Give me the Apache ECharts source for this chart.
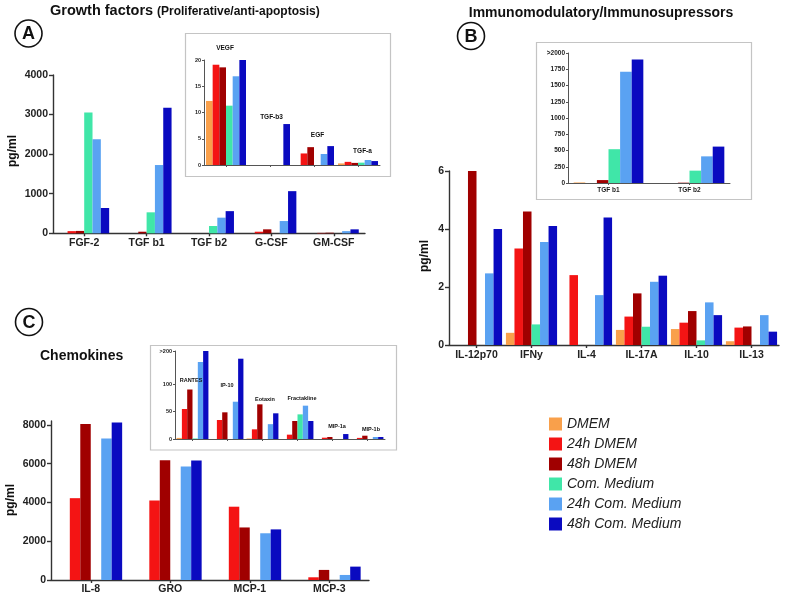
<!DOCTYPE html>
<html><head><meta charset="utf-8">
<script src="https://cdn.jsdelivr.net/npm/echarts@6/dist/echarts.min.js"></script>
<style>html,body{margin:0;padding:0;background:#fff}#c{width:787px;height:597px}</style>
</head><body><div id="c"></div>
<script>
// ---------- DATA ----------
const seriesNames = ['DMEM','24h DMEM','48h DMEM','Com. Medium','24h Com. Medium','48h Com. Medium'];
const colors = ['#F9A04B','#F41414','#A00000','#40E6A8','#5AA2F2','#0A0AC0'];

// Panel A (growth factors) main
const catsA = ['FGF-2','TGF b1','TGF b2','G-CSF','GM-CSF'];
const valsA = [
  [0, 0, 0, 0, 0],
  [55, 0, 0, 40, 10],
  [60, 40, 0, 100, 15],
  [3050, 530, 185, 0, 0],
  [2375, 1725, 395, 310, 55],
  [640, 3170, 560, 1065, 100]
];
const ticksA = [0, 1000, 2000, 3000, 4000];

// Panel A inset
const catsAIn = ['VEGF','TGF-b3','EGF','TGF-a'];
const valsAIn = [
  [12.2, 0, 0, 0.3],
  [19.1, 0, 2.2, 0.6],
  [18.6, 0, 3.4, 0.4],
  [11.3, 0, 0, 0.45],
  [16.9, 0, 2.1, 0.95],
  [20, 7.8, 3.6, 0.75]
];
const ticksAIn = [0, 5, 10, 15, 20];

// Panel B (immunomodulatory) main
const catsB = ['IL-12p70','IFNy','IL-4','IL-17A','IL-10','IL-13'];
const valsB = [
  [0, 0.42, 0, 0.52, 0.55, 0.13],
  [0, 3.33, 2.41, 0.98, 0.77, 0.6],
  [6.0, 4.6, 0, 1.78, 1.17, 0.64],
  [0, 0.71, 0, 0.63, 0.16, 0],
  [2.47, 3.55, 1.72, 2.18, 1.47, 1.03],
  [4.0, 4.1, 4.4, 2.39, 1.03, 0.46]
];
const ticksB = [0, 2, 4, 6];

// Panel B inset
const catsBIn = ['TGF b1','TGF b2'];
const valsBIn = [
  [8, 0],
  [0, 0],
  [45, 5],
  [520, 190],
  [1710, 410],
  [1900, 560]
];
const ticksBIn = [0, 250, 500, 750, 1000, 1250, 1500, 1750, 2000];
const tickLabelsBIn = ['0','250','500','750','1000','1250','1500','1750','>2000'];

// Panel C (chemokines) main
const catsC = ['IL-8','GRO','MCP-1','MCP-3'];
const valsC = [
  [0, 0, 0, 0],
  [4220, 4100, 3780, 140],
  [8050, 6180, 2710, 520],
  [0, 0, 0, 0],
  [7300, 5850, 2410, 260],
  [8120, 6160, 2610, 690]
];
const ticksC = [0, 2000, 4000, 6000, 8000];

// Panel C inset
const catsCIn = ['RANTES','IP-10','Eotaxin','Fractakline','MIP-1a','MIP-1b'];
const valsCIn = [
  [2, 0, 1, 0, 0, 0],
  [54.5, 34.5, 17.6, 7.9, 2.4, 2],
  [90, 48.5, 63, 32.7, 3.6, 6],
  [1, 0, 0, 44.8, 0, 0],
  [140, 67.8, 27, 60.6, 0, 3.6],
  [160, 146, 46.7, 32.7, 9, 3.6]
];
const ticksCIn = [0, 50, 100, 160];
const tickLabelsCIn = ['0','50','100','>200'];

// ---------- BUILD ----------
const FONT = '"Liberation Sans", Arial, Helvetica, sans-serif';
const grids = [], xAxes = [], yAxes = [], series = [];

function addPanel(cats, vals, g, y, x, gap) {
  const idx = grids.length;
  grids.push({left: g[0], top: g[1], width: g[2], height: g[3]});
  const lab = {};
  y.ticks.forEach((t, i) => { lab[t] = y.labels ? y.labels[i] : String(t); });
  xAxes.push({
    type: 'category', gridIndex: idx, data: cats,
    axisLine: {lineStyle: {color: x.color, width: x.lw}},
    axisTick: {show: true, alignWithLabel: true, length: x.tickLen, lineStyle: {color: x.color, width: x.lw}},
    axisLabel: {show: x.show, fontSize: x.fs, fontWeight: 'bold', color: '#222', margin: x.margin, fontFamily: FONT, interval: 0},
    splitLine: {show: false}
  });
  yAxes.push({
    type: 'value', gridIndex: idx, min: 0, max: y.max,
    interval: y.interval,
    axisLine: {show: true, lineStyle: {color: x.color, width: x.lw}},
    axisTick: {show: true, length: y.tickLen, lineStyle: {color: x.color, width: x.lw}, customValues: y.ticks},
    axisLabel: {fontSize: y.fs, fontWeight: 'bold', color: '#222', margin: y.margin, fontFamily: FONT,
      customValues: y.ticks,
      formatter: v => (lab[v] !== undefined ? lab[v] : '')},
    splitLine: {show: false}
  });
  vals.forEach((arr, si) => {
    series.push({
      type: 'bar', name: seriesNames[si], xAxisIndex: idx, yAxisIndex: idx,
      data: arr, barGap: '0%', barCategoryGap: gap,
      itemStyle: {color: colors[si]}, animation: false, clip: true
    });
  });
}

// A main
addPanel(catsA, valsA, [53, 75, 312, 158.3],
  {max: 4000, interval: 1000, ticks: ticksA, fs: 10.5, margin: 5, tickLen: 4},
  {show: true, fs: 10.5, margin: 4, color: '#333', lw: 1.4, tickLen: 3}, '20%');
// A inset
addPanel(catsAIn, valsAIn, [204, 60, 176, 105],
  {max: 20, interval: 5, ticks: ticksAIn, fs: 5.5, margin: 3, tickLen: 2},
  {show: false, fs: 6, margin: 2, color: '#555', lw: 1, tickLen: 2}, '9%');
// B main
addPanel(catsB, valsB, [449, 171, 330, 174],
  {max: 6, interval: 2, ticks: ticksB, fs: 10.5, margin: 5, tickLen: 4},
  {show: true, fs: 10.5, margin: 5, color: '#333', lw: 1.4, tickLen: 3}, '7%');
// B inset
addPanel(catsBIn, valsBIn, [568, 53, 162, 130],
  {max: 2000, interval: 250, ticks: ticksBIn, labels: tickLabelsBIn, fs: 6.5, margin: 3, tickLen: 2},
  {show: true, fs: 6.5, margin: 4, color: '#555', lw: 1, tickLen: 2}, '14%');
// C main
addPanel(catsC, valsC, [51, 421, 318, 159],
  {max: 8200, interval: 2000, ticks: ticksC, fs: 10.5, margin: 5, tickLen: 4},
  {show: true, fs: 10.5, margin: 4, color: '#333', lw: 1.4, tickLen: 3}, '21%');
// C inset
addPanel(catsCIn, valsCIn, [175, 351, 210, 88],
  {max: 160, interval: 50, ticks: ticksCIn, labels: tickLabelsCIn, fs: 5.5, margin: 3, tickLen: 2},
  {show: false, fs: 6, margin: 2, color: '#555', lw: 1, tickLen: 2}, '9%');

// ---------- GRAPHIC (boxes, titles, annotations) ----------
function txt(x, y, s, size, weight, opts) {
  return Object.assign({
    type: 'text', x: x, y: y, z: 10,
    style: Object.assign({text: s, fontSize: size, fontWeight: weight || 'bold', fontFamily: FONT,
      fill: '#111', align: 'center', verticalAlign: 'middle'}, (opts && opts.style) || {})
  }, (opts && opts.el) || {});
}
function box(x, y, w, h) {
  return {type: 'rect', shape: {x: x, y: y, width: w, height: h}, z: -5,
    style: {fill: '#fff', stroke: '#c4c4c4', lineWidth: 1.2}};
}
function circ(cx, cy, r, letter) {
  return [
    {type: 'circle', shape: {cx: cx, cy: cy, r: r}, z: 10, style: {fill: '#fff', stroke: '#111', lineWidth: 1.6}},
    txt(cx, cy + 1, letter, 18, 'bold')
  ];
}
const graphics = [
  box(185.5, 33.5, 205, 143),
  box(536.5, 42.5, 215, 157),
  box(150.5, 345.5, 246, 104.5),
  txt(50, 11, 'Growth factors', 14.5, 'bold', {style: {align: 'left'}}),
  txt(157, 12, '(Proliferative/anti-apoptosis)', 12, 'bold', {style: {align: 'left'}}),
  txt(601, 13, 'Immunomodulatory/Immunosupressors', 14, 'bold'),
  txt(40, 356, 'Chemokines', 14, 'bold', {style: {align: 'left'}}),
  ...circ(28.5, 33.5, 13.5, 'A'),
  ...circ(471, 36, 13.5, 'B'),
  ...circ(29, 322, 13.5, 'C'),
  txt(12.5, 151, 'pg/ml', 12, 'bold', {el: {rotation: Math.PI / 2}}),
  txt(425, 256, 'pg/ml', 12, 'bold', {el: {rotation: Math.PI / 2}}),
  txt(11, 500, 'pg/ml', 12, 'bold', {el: {rotation: Math.PI / 2}}),
  // inset A labels
  txt(225, 48.5, 'VEGF', 6.5, 'bold'),
  txt(271.5, 117.5, 'TGF-b3', 6.5, 'bold'),
  txt(317.5, 135.5, 'EGF', 6.5, 'bold'),
  txt(362.5, 151.5, 'TGF-a', 6.5, 'bold'),
  // inset C labels
  txt(191, 380, 'RANTES', 5.5, 'bold'),
  txt(227, 385, 'IP-10', 5.5, 'bold'),
  txt(265, 399, 'Eotaxin', 5.5, 'bold'),
  txt(302, 398, 'Fractakline', 5.5, 'bold'),
  txt(337, 426, 'MIP-1a', 5.5, 'bold'),
  txt(371, 429, 'MIP-1b', 5.5, 'bold')
];

const option = {
  animation: false,
  backgroundColor: '#fff',
  textStyle: {fontFamily: FONT},
  grid: grids, xAxis: xAxes, yAxis: yAxes, series: series,
  legend: {
    data: seriesNames, orient: 'vertical', left: 544, top: 412,
    icon: 'rect', itemWidth: 13, itemHeight: 13, itemGap: 6, selectedMode: false,
    textStyle: {fontSize: 14, fontStyle: 'italic', color: '#222', fontFamily: FONT, lineHeight: 14}
  },
  graphic: graphics
};
const chart = echarts.init(document.getElementById('c'));
chart.setOption(option);
</script></body></html>
